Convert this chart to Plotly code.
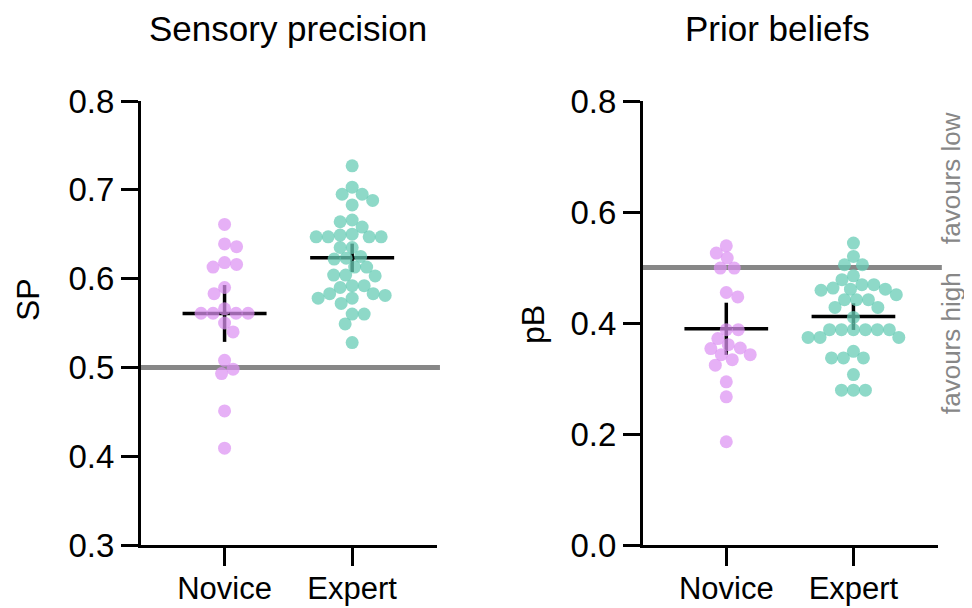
import numpy as np
import plotly.graph_objects as go

# ---------------- data ----------------
categories = ["Novice", "Expert"]

sp_novice = [0.661, 0.639, 0.636, 0.616, 0.613, 0.618, 0.590, 0.583, 0.566,
             0.561, 0.561, 0.561, 0.561, 0.550, 0.540, 0.508, 0.498, 0.493,
             0.451, 0.409]
sp_expert = [0.727, 0.703, 0.695, 0.695, 0.688, 0.683, 0.666, 0.664, 0.658,
             0.649, 0.650, 0.647, 0.647, 0.647, 0.647, 0.635, 0.635, 0.625,
             0.623, 0.622, 0.613, 0.613, 0.604, 0.604, 0.603, 0.592, 0.592,
             0.590, 0.583, 0.583, 0.581, 0.578, 0.578, 0.572, 0.560, 0.560,
             0.549, 0.528]
sp_err = [0.032, 0.016]

pb_novice = [0.539, 0.526, 0.517, 0.499, 0.499, 0.455, 0.447, 0.388, 0.388,
             0.361, 0.354, 0.372, 0.343, 0.343, 0.334, 0.324, 0.294, 0.267,
             0.186, 0.355]
pb_expert = [0.544, 0.520, 0.505, 0.505, 0.485, 0.478, 0.461, 0.469, 0.459,
             0.463, 0.469, 0.461, 0.451, 0.442, 0.442, 0.442, 0.428, 0.428,
             0.410, 0.388, 0.388, 0.388, 0.388, 0.388, 0.388, 0.374, 0.374,
             0.374, 0.349, 0.337, 0.337, 0.337, 0.307, 0.279, 0.279, 0.279]
pb_err = [0.047, 0.024]

sp_ticks = [0.3, 0.4, 0.5, 0.6, 0.7, 0.8]
pb_ticks = [0.0, 0.2, 0.4, 0.6, 0.8]
chance_level = 0.5

# ---------------- styling ----------------
W, H = 972, 608
OFF = 8  # page body margin in the browser
FONT = "Liberation Sans, Arial, Helvetica, sans-serif"
COL_NOV = "rgba(220,145,242,0.72)"
COL_EXP = "rgba(104,204,182,0.75)"
GREY = "#878787"


def px_x(sx):
    return (sx - OFF) / W


def px_y(sy):
    return 1 - (sy - OFF) / H


X_RANGE = [0.345, 2.665]
dom_left = [px_x(141), px_x(437)]
dom_right = [px_x(643), px_x(938)]
dom_y = [px_y(545), px_y(101)]
x_ppu = (437 - 141) / (X_RANGE[1] - X_RANGE[0])


def swarm(values, y_ppu, d=12.0, step=0.5):
    vals = np.asarray(values, dtype=float)
    order = np.argsort(-vals, kind="stable")
    placed = []
    offs = np.zeros(len(vals))
    for n, i in enumerate(order):
        y = vals[i] * y_ppu
        k = 0
        found = None
        while found is None:
            if k == 0:
                cands = [0.0]
            else:
                cands = [k * step, -k * step] if n % 2 == 0 else [-k * step, k * step]
            for xo in cands:
                if all((xo - px) ** 2 + (y - py) ** 2 >= d * d for px, py in placed):
                    found = xo
                    break
            k += 1
        placed.append((found, y))
        offs[i] = found
    return offs / x_ppu


fig = go.Figure()

panels = [
    ("x", "y", [sp_novice, sp_expert], sp_err, 444 / 0.5),
    ("x2", "y2", [pb_novice, pb_expert], pb_err, 444 / 0.8),
]
half_bar = 42 / x_ppu
for xa, ya, groups, errs, y_ppu in panels:
    # mean lines + CI (drawn first so dots sit on top)
    for ci, (vals, e) in enumerate(zip(groups, errs)):
        m = float(np.mean(vals))
        xc = ci + 1
        fig.add_trace(go.Scatter(x=[xc - half_bar, xc + half_bar], y=[m, m], mode="lines",
                                 line=dict(color="black", width=3.5), xaxis=xa, yaxis=ya,
                                 showlegend=False, hoverinfo="skip"))
        fig.add_trace(go.Scatter(x=[xc], y=[m], mode="markers", marker=dict(size=1, color="rgba(0,0,0,0)"),
                                 error_y=dict(type="data", array=[e], width=0, thickness=3.5, color="black"),
                                 xaxis=xa, yaxis=ya, showlegend=False, hoverinfo="skip"))
    for ci, (vals, col) in enumerate(zip(groups, [COL_NOV, COL_EXP])):
        offs = swarm(vals, y_ppu)
        fig.add_trace(go.Scatter(x=ci + 1 + offs, y=vals, mode="markers",
                                 marker=dict(size=13, color=col, line=dict(width=0)),
                                 xaxis=xa, yaxis=ya, showlegend=False, cliponaxis=False,
                                 name=categories[ci]))

# reference lines at 0.5
fig.add_shape(type="line", xref="x domain", yref="y", x0=0, x1=1.01, y0=chance_level, y1=chance_level,
              line=dict(color=GREY, width=5), layer="below")
fig.add_shape(type="line", xref="x2 domain", yref="y2", x0=0, x1=1.013, y0=chance_level, y1=chance_level,
              line=dict(color=GREY, width=5), layer="below")

xcommon = dict(range=X_RANGE, tickvals=[1, 2], ticktext=categories, ticks="outside", ticklen=18,
               tickwidth=3, tickcolor="black", showline=True, linewidth=3, linecolor="black",
               showgrid=False, zeroline=False, automargin=False, ticklabelstandoff=-4,
               tickfont=dict(size=31, color="black", family=FONT))
ycommon = dict(ticks="outside", ticklen=17, tickwidth=3, tickcolor="black", showline=True,
               linewidth=3, linecolor="black", showgrid=False, zeroline=False, tickformat=".1f",
               automargin=False, tickfont=dict(size=33, color="black", family=FONT), domain=dom_y)

fig.update_layout(
    width=W, height=H, margin=dict(l=0, r=0, t=0, b=0, autoexpand=False),
    plot_bgcolor="white", paper_bgcolor="white",
    font=dict(family=FONT, color="black"),
    xaxis=dict(domain=dom_left, anchor="y", **xcommon),
    xaxis2=dict(domain=dom_right, anchor="y2", **xcommon),
    yaxis=dict(range=[0.3, 0.8], tickvals=sp_ticks, anchor="x", **ycommon),
    yaxis2=dict(range=[0.0, 0.8], tickvals=pb_ticks, anchor="x2", **ycommon),
)


def ann(text, x, y, size, color="black", angle=0):
    fig.add_annotation(text=text, x=px_x(x), y=px_y(y), xref="paper", yref="paper",
                       showarrow=False, textangle=angle, xanchor="center", yanchor="middle",
                       font=dict(size=size, color=color, family=FONT))


ann("Sensory precision", 288, 29, 35)
ann("Prior beliefs", 777, 29, 35)
ann("SP", 28, 300, 32, angle=-90)
ann("pB", 533, 325, 32, angle=-90)
ann("favours low", 951, 178, 26, color=GREY, angle=-90)
ann("favours high", 951, 343, 26, color=GREY, angle=-90)

fig.write_html("out.html")
